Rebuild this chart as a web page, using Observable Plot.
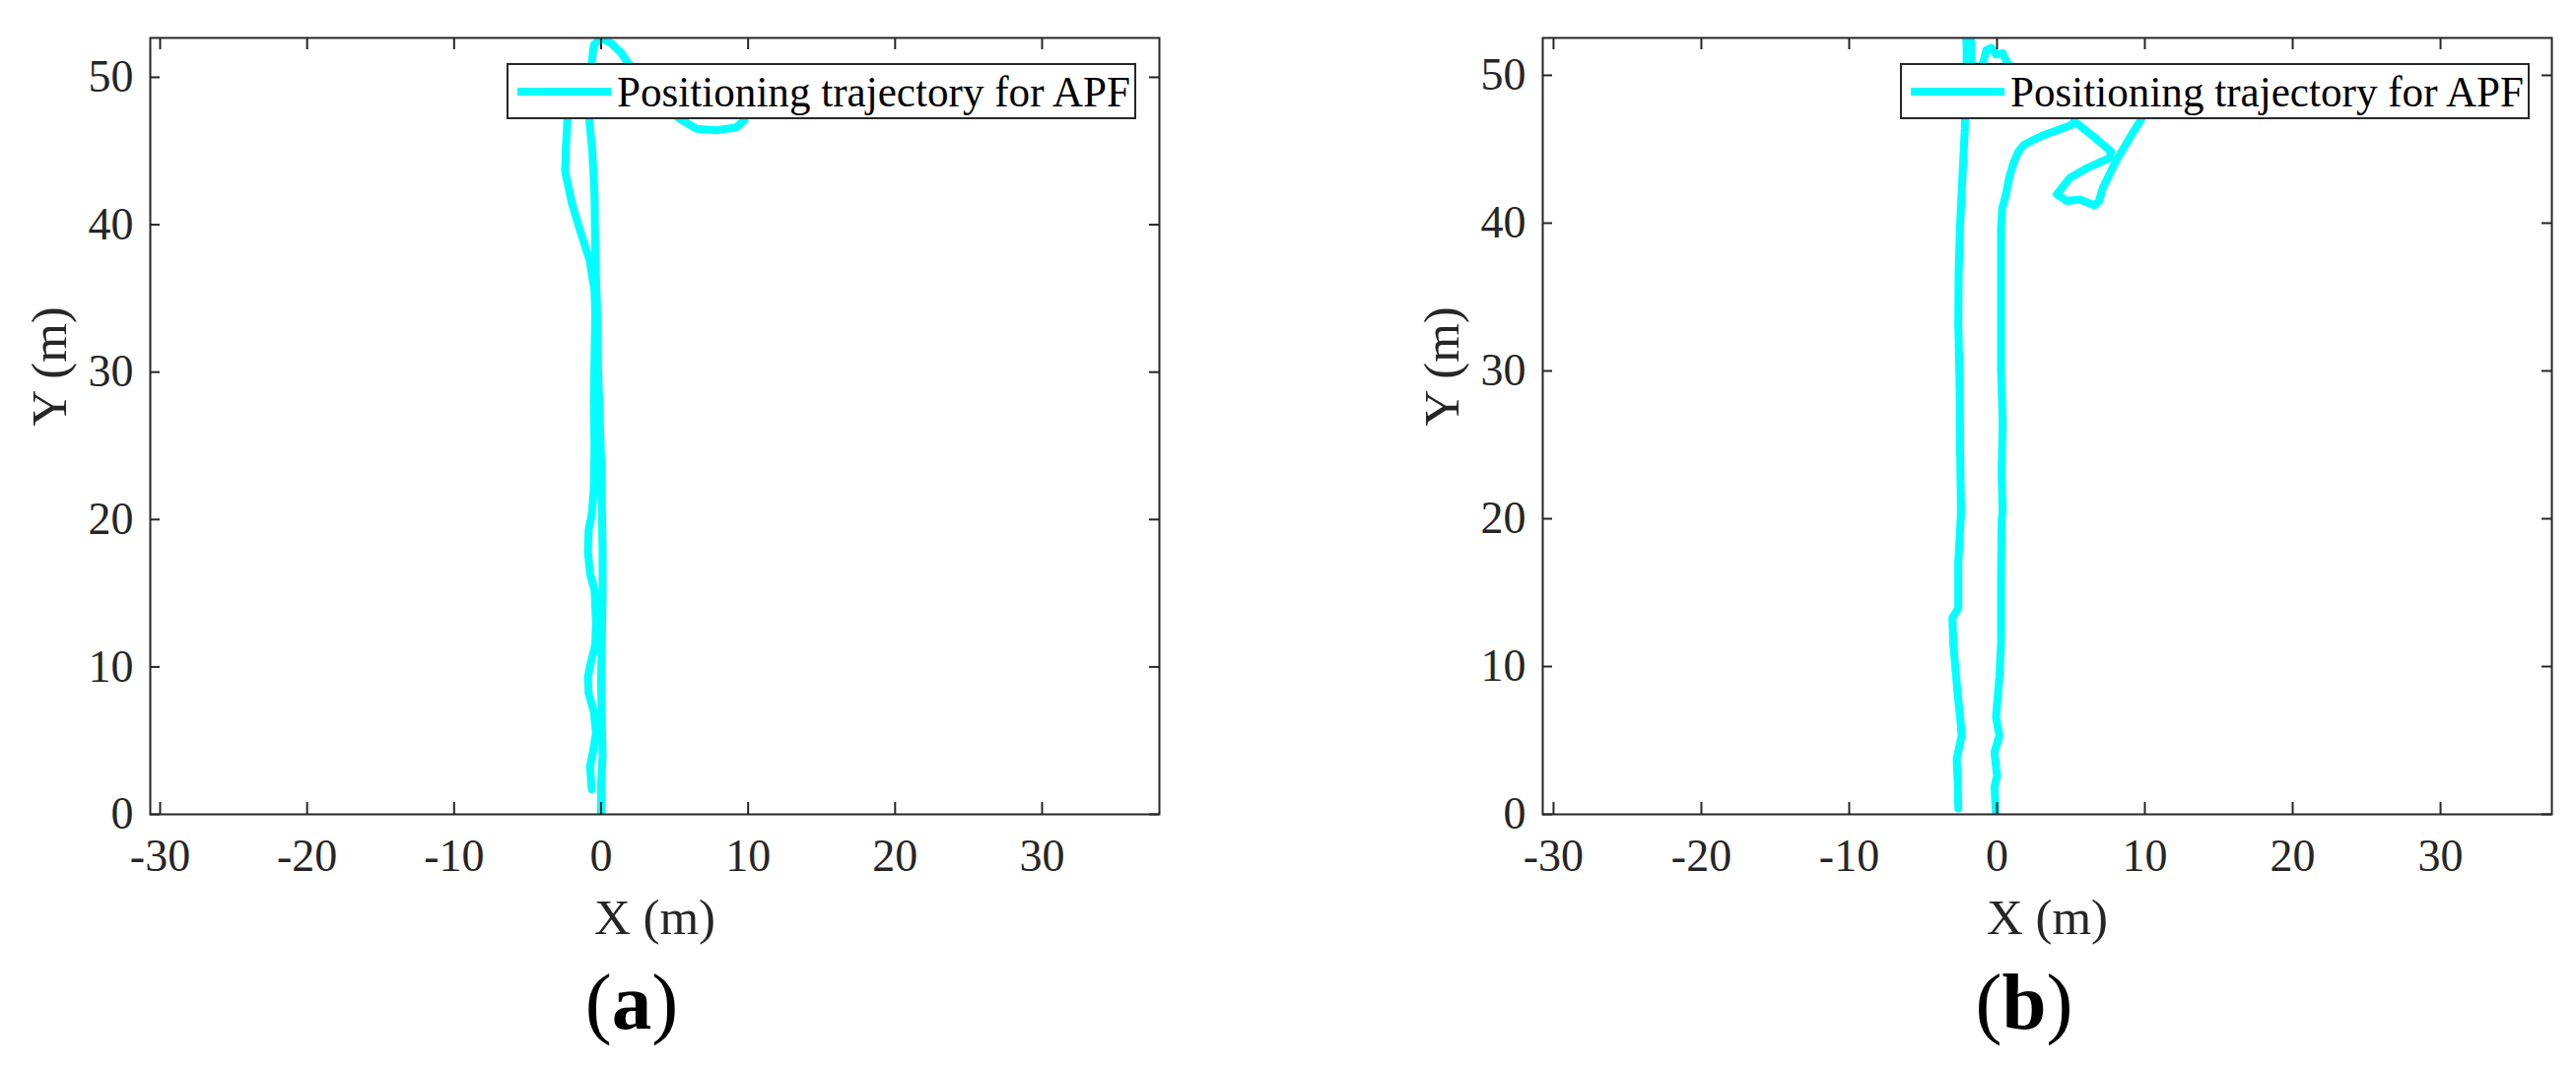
<!DOCTYPE html>
<html><head><meta charset="utf-8">
<script src="https://cdn.jsdelivr.net/npm/d3@7"></script>
<script src="https://cdn.jsdelivr.net/npm/@observablehq/plot@0.6"></script>
<style>
body{margin:0;background:#fff;}
#page{position:relative;width:2614px;height:1088px;overflow:hidden;background:#fff;font-family:"Liberation Serif",serif;}
.panel{position:absolute;top:0;}
.legend{position:absolute;top:64px;width:639px;height:57px;background:#fff;border:2px solid #262626;box-sizing:border-box;}
.legend .sw{position:absolute;left:9px;top:22.7px;width:95px;height:8px;background:#00ffff;}
.legend .lt{position:absolute;left:110px;top:6.4px;font-size:44px;line-height:1;color:#000;white-space:nowrap;transform-origin:0 0;}
.cap{position:absolute;top:977px;font-size:81px;line-height:1;color:#000;white-space:nowrap;transform:translateX(-50%);}
.cap b{font-weight:bold;}
</style>
</head><body>
<div id="page"></div>
<script>
// ---- data ----
const xTicks = [-30, -20, -10, 0, 10, 20, 30];
const yTicks = [0, 10, 20, 30, 40, 50];
const legendLabel = "Positioning trajectory for APF";
const xLabel = "X (m)";
const yLabel = "Y (m)";

// Panel (a) trajectory
const aX = [0, 0.0, 0.1, 0.05, 0.0, 0.05, 0.1, 0.1, 0.05, 0.0, -0.1, -0.2, -0.25, -0.3, -0.4, -0.45, -0.6, -0.8, -0.75, -0.64, -0.5, 0.03, 0.7, 1.37, 1.8, 3.0, 4.4, 5.3, 6.5, 7.85, 9.2, 9.75, 9.4, 7.0, 3.0, -1.0, -2.0, -2.3, -2.4, -2.45, -2.0, -1.4, -0.78, -0.45, -0.4, -0.45, -0.5, -0.45, -0.5, -0.65, -0.85, -0.9, -0.75, -0.45, -0.35, -0.4, -0.7, -0.9, -0.85, -0.5, -0.35, -0.55, -0.75, -0.7, -0.64];
const aY = [0, 2, 4, 6, 9, 12, 15, 18, 21, 24, 27, 30, 33, 35, 38, 42, 45, 47, 49, 51, 52.2, 52.65, 52.3, 51.65, 51.0, 49.6, 48.0, 47.2, 46.5, 46.4, 46.6, 47.1, 48.3, 49.5, 49.8, 49.6, 48.8, 47.0, 45.2, 43.6, 41.5, 39.5, 37.6, 35.5, 34.0, 31.0, 28.0, 25.0, 22.0, 20.3, 19.3, 17.8, 16.3, 15.2, 13.0, 11.5, 10.3, 9.3, 8.2, 7.0, 5.5, 4.3, 3.3, 2.5, 1.7];

// Panel (b) trajectory
const bX = [-0.07, -0.18, 0.0, -0.18, 0.16, -0.07, 0.16, 0.27, 0.27, 0.31, 0.38, 0.3, 0.38, 0.27, 0.27, 0.27, 0.27, 0.35, 0.6, 0.85, 1.16, 1.45, 1.82, 2.4, 3.16, 4.93, 5.27, 5.15, 5.27, 6.71, 7.71, 7.6, 6.04, 4.93, 4.04, 4.71, 5.6, 6.6, 6.9, 7.16, 8.04, 8.93, 9.71, 10.3, 8.0, 4.0, 1.2, 0.71, 0.38, -0.07, -0.4, -0.73, -0.96, -1.3, -1.7, -1.75, -1.8, -2.1, -2.05, -2.1, -2.18, -2.35, -2.51, -2.6, -2.62, -2.55, -2.51, -2.5, -2.44, -2.62, -2.62, -3.02, -2.96, -2.67, -2.44, -2.4, -2.73, -2.65, -2.62];
const bY = [0, 1.85, 2.6, 4.2, 5.3, 6.6, 9.3, 11.7, 16, 19.95, 20.5, 23, 26.4, 30, 33.1, 36.5, 39.7, 41.0, 41.95, 43.2, 44.2, 44.85, 45.3, 45.6, 45.95, 46.6, 46.85, 47.6, 46.85, 45.7, 44.85, 44.4, 43.7, 43.07, 41.95, 41.5, 41.6, 41.2, 41.5, 42.4, 44.2, 45.7, 46.95, 48.2, 49.8, 50.4, 50.4, 50.8, 51.5, 51.4, 51.85, 51.7, 50.8, 50.0, 50.6, 51.8, 53.2, 53.2, 51.5, 49.5, 46.4, 43, 39.7, 36.5, 33.1, 30, 27.07, 24.8, 20.4, 17.07, 13.95, 13.3, 11.5, 8.2, 5.95, 5.3, 3.73, 2.0, 0.4];

const panels = [
  {xs: aX, ys: aY, xDomain: [-30.67, 37.98], yDomain: [0, 52.67], left: 0, width: 1300, mL: 152, mR: 124, legendLeft: 514, cap: "a", capX: 641},
  {xs: bX, ys: bY, xDomain: [-30.73, 37.53], yDomain: [0, 52.53], left: 1300, width: 1314, mL: 265, mR: 25, legendLeft: 1928, cap: "b", capX: 2054}
];

const page = document.getElementById("page");
const H = 960, mT = 38, mB = 134;
const axisColor = "#262626";
const legendTextWidth = 521;

for (const p of panels) {
  const data = p.xs.map((x, i) => ({x, y: p.ys[i]}));
  const innerW = p.width - p.mL - p.mR;
  const innerH = H - mT - mB;
  const chart = Plot.plot({
    width: p.width, height: H,
    marginLeft: p.mL, marginRight: p.mR, marginTop: mT, marginBottom: mB,
    x: {domain: p.xDomain},
    y: {domain: p.yDomain},
    style: {fontFamily: "Liberation Serif", fontSize: "46px", color: axisColor, background: "#fff", overflow: "visible"},
    marks: [
      Plot.line(data, {x: "x", y: "y", stroke: "#00ffff", strokeWidth: 8, strokeLinejoin: "round", strokeLinecap: "round", clip: true}),
      Plot.tickX(xTicks, {x: d => d, insetTop: innerH - 12, stroke: axisColor, strokeWidth: 2}),
      Plot.tickX(xTicks, {x: d => d, insetBottom: innerH - 12, stroke: axisColor, strokeWidth: 2}),
      Plot.tickY(yTicks, {y: d => d, insetRight: innerW - 10, stroke: axisColor, strokeWidth: 2}),
      Plot.tickY(yTicks, {y: d => d, insetLeft: innerW - 10, stroke: axisColor, strokeWidth: 2}),
      Plot.frame({stroke: axisColor, strokeWidth: 2}),
      Plot.axisX(xTicks, {tickSize: 0, tickPadding: 25, tickFormat: d => String(d), label: null, fill: axisColor}),
      Plot.axisY(yTicks, {tickSize: 0, tickPadding: 17, tickFormat: d => String(d), label: null, fill: axisColor}),
      Plot.text([xLabel], {frameAnchor: "bottom", lineAnchor: "bottom", dy: 121, fontSize: 51, fill: axisColor}),
      Plot.text([yLabel], {frameAnchor: "left", rotate: -90, dx: -102, fontSize: 51, fill: axisColor})
    ]
  });
  const wrap = document.createElement("div");
  wrap.className = "panel";
  wrap.style.left = p.left + "px";
  wrap.appendChild(chart);
  page.appendChild(wrap);

  const lg = document.createElement("div");
  lg.className = "legend";
  lg.style.left = p.legendLeft + "px";
  lg.innerHTML = `<div class="sw"></div><div class="lt">${legendLabel}</div>`;
  page.appendChild(lg);
  const lt = lg.querySelector(".lt");
  const w = lt.getBoundingClientRect().width;
  if (w > 0) lt.style.transform = `scaleX(${legendTextWidth / w})`;

  const cap = document.createElement("div");
  cap.className = "cap";
  cap.style.left = p.capX + "px";
  cap.innerHTML = `(<b>${p.cap}</b>)`;
  page.appendChild(cap);
}
</script>
</body></html>
